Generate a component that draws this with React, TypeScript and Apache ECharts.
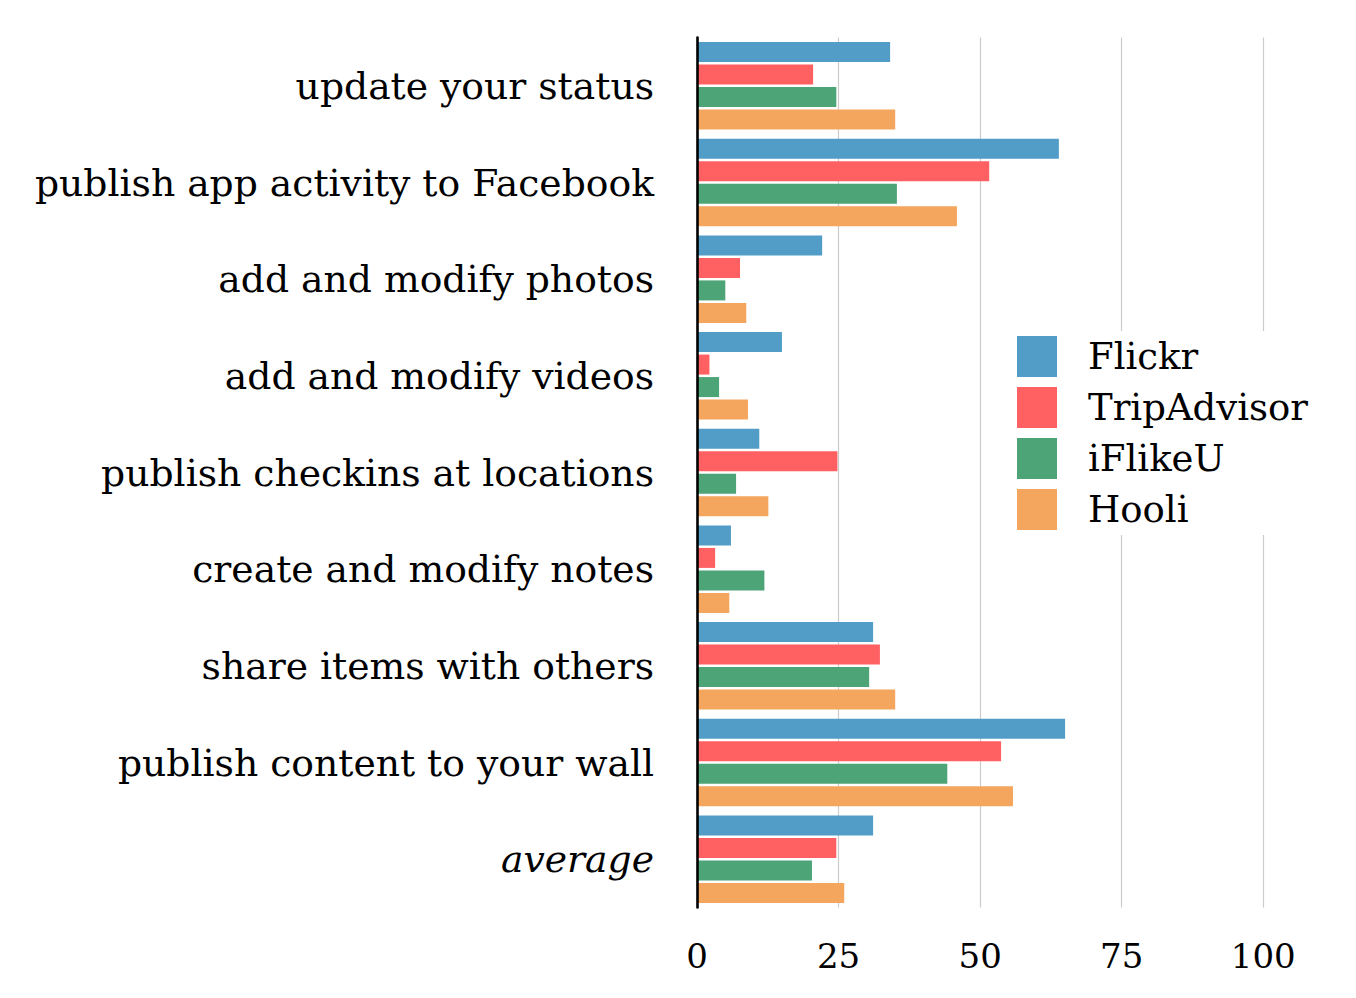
import React, { useEffect, useRef } from "react";
import * as echarts from "echarts";

const categories = [
  "update your status",
  "publish app activity to Facebook",
  "add and modify photos",
  "add and modify videos",
  "publish checkins at locations",
  "create and modify notes",
  "share items with others",
  "publish content to your wall",
  "average",
];
const seriesNames = ["Flickr", "TripAdvisor", "iFlikeU", "Hooli"];
const flickr = [34.1, 63.9, 22.1, 15.0, 11.0, 6.0, 31.1, 65.0, 31.1];
const tripAdvisor = [20.5, 51.6, 7.6, 2.2, 24.8, 3.2, 32.3, 53.7, 24.6];
const iFlikeU = [24.6, 35.3, 5.0, 3.9, 6.9, 11.9, 30.4, 44.2, 20.3];
const hooli = [35.0, 45.9, 8.7, 9.0, 12.6, 5.7, 35.0, 55.8, 26.0];
const xTicks = [0, 25, 50, 75, 100];
const colors = ["#529DC7", "#FF6163", "#4CA477", "#F5A65E"];

const FONT = "DejaVu Serif";

export default function App() {
  const ref = useRef<HTMLDivElement>(null);
  useEffect(() => {
    if (!ref.current) return;
    const chart = echarts.init(ref.current, undefined, { renderer: "svg" });
    const values = [flickr, tripAdvisor, iFlikeU, hooli];
    chart.setOption({
      animation: false,
      backgroundColor: "#ffffff",
      color: colors,
      grid: { left: 697, right: 92.7, top: 37.5, height: 870, containLabel: false },
      legend: {
        data: seriesNames,
        orient: "vertical",
        left: 1007,
        top: 331,
        padding: [5, 10, 5, 10],
        backgroundColor: "#ffffff",
        itemWidth: 40,
        itemHeight: 41,
        itemGap: 10,
        icon: "rect",
        textStyle: { fontFamily: FONT, fontSize: 37, color: "#000", padding: [0, 0, 0, 26] },
      },
      xAxis: {
        type: "value",
        min: xTicks[0],
        max: xTicks[xTicks.length - 1],
        interval: 25,
        axisLine: { show: false },
        axisTick: { show: false },
        splitLine: { show: true, lineStyle: { color: "#cccccc", width: 1.2 } },
        axisLabel: { fontFamily: FONT, fontSize: 34, color: "#000", margin: 31 },
      },
      yAxis: {
        type: "category",
        data: categories,
        inverse: true,
        z: 5,
        axisLine: { show: true, lineStyle: { color: "#000", width: 2.6 } },
        axisTick: { show: false },
        splitLine: { show: false },
        axisLabel: {
          fontFamily: FONT,
          fontSize: 37.7,
          color: "#000",
          margin: 43,
          formatter: (v: string) => (v === "average" ? "{it|" + v + "}" : v),
          rich: { it: { fontFamily: FONT, fontSize: 37.7, fontStyle: "italic", color: "#000" } },
        },
      },
      series: seriesNames.map((name, i) => ({
        name,
        type: "bar",
        data: values[i],
        barWidth: 20,
        barGap: "12.5%",
        itemStyle: { color: colors[i] },
      })),
    });
    return () => chart.dispose();
  }, []);
  return <div ref={ref} style={{ position: "fixed", left: 0, top: 0, width: 1356, height: 998 }} />;
}
